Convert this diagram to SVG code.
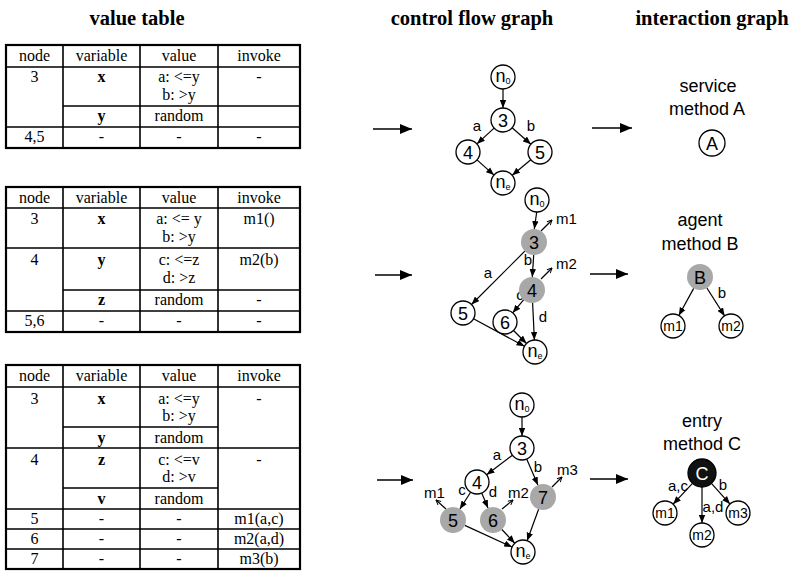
<svg xmlns="http://www.w3.org/2000/svg" width="793" height="574" viewBox="0 0 793 574">
<defs>
<marker id="ah" viewBox="0 0 10 8" refX="10" refY="4" markerWidth="8" markerHeight="7" markerUnits="userSpaceOnUse" orient="auto"><path d="M0,0 L10,4 L0,8 z" fill="#000"/></marker>
<marker id="big" viewBox="0 0 12 10" refX="12" refY="5" markerWidth="13" markerHeight="10" markerUnits="userSpaceOnUse" orient="auto"><path d="M0,0 L12,5 L0,10 z" fill="#000"/></marker>
<marker id="oh" viewBox="0 0 10 10" refX="9" refY="5" markerWidth="6" markerHeight="6" markerUnits="userSpaceOnUse" orient="auto"><path d="M1,1 L9,5 L1,9" fill="none" stroke="#000" stroke-width="1.6"/></marker>
</defs>
<style>
.title{font-family:"Liberation Serif","Times New Roman",serif;font-weight:bold;font-size:20.5px;text-anchor:middle}
.tt{font-family:"Liberation Serif","Times New Roman",serif;font-size:16px;text-anchor:middle}
.tb{font-weight:bold}
.grid{stroke:#000;stroke-width:1.6;fill:none}
.outer{stroke:#000;stroke-width:2.2;fill:none}
.nd{fill:#fff;stroke:#000;stroke-width:1.3}
.sh{fill:#a8a8a8}
.blk{fill:#111;stroke:#000;stroke-width:1.3}
.nt{font-family:"Liberation Sans",Arial,sans-serif;font-size:18px;text-anchor:middle}
.mt{font-family:"Liberation Sans",Arial,sans-serif;font-size:14px;text-anchor:middle}
.lb{font-family:"Liberation Sans",Arial,sans-serif;font-size:15px;text-anchor:middle}
.hd{font-family:"Liberation Sans",Arial,sans-serif;font-size:18px;text-anchor:middle}
.edge{stroke:#000;stroke-width:1.2;fill:none;marker-end:url(#ah)}
.inv{stroke:#000;stroke-width:1.2;fill:none;marker-end:url(#oh)}
.step{stroke:#000;stroke-width:1.6;fill:none;marker-end:url(#big)}
</style>
<rect width="793" height="574" fill="#fff"/>

<g id="titles">
<text class="title" x="137" y="25">value table</text>
<text class="title" x="472" y="25">control flow graph</text>
<text class="title" x="712" y="25">interaction graph</text>
</g>

<g id="table1">
<rect class="outer" x="6" y="45" width="294" height="103"/>
<path class="grid" d="M6,67H300 M63,45V148 M140,45V148 M218,45V148 M63,106H300 M6,127H300"/>
<g class="tt">
<text x="34.5" y="61">node</text><text x="101.5" y="61">variable</text><text x="179" y="61">value</text><text x="259" y="61">invoke</text>
<text x="34.5" y="82">3</text><text class="tb" x="101.5" y="82">x</text><text x="179" y="82">a: &lt;=y</text><text x="259" y="82">-</text>
<text x="179" y="100">b: &gt;y</text>
<text class="tb" x="101.5" y="121">y</text><text x="179" y="121">random</text>
<text x="34.5" y="142">4,5</text><text x="101.5" y="142">-</text><text x="179" y="142">-</text><text x="259" y="142">-</text>
</g>
</g>

<g id="table2">
<rect class="outer" x="6" y="187" width="294" height="145"/>
<path class="grid" d="M6,208H300 M63,187V332 M140,187V332 M218,187V332 M6,248H300 M63,290H300 M6,311H300"/>
<g class="tt">
<text x="34.5" y="203">node</text><text x="101.5" y="203">variable</text><text x="179" y="203">value</text><text x="259" y="203">invoke</text>
<text x="34.5" y="224">3</text><text class="tb" x="101.5" y="224">x</text><text x="179" y="224">a: &lt;= y</text><text x="259" y="224">m1()</text>
<text x="179" y="242">b: &gt;y</text>
<text x="34.5" y="265">4</text><text class="tb" x="101.5" y="265">y</text><text x="179" y="265">c: &lt;=z</text><text x="259" y="265">m2(b)</text>
<text x="179" y="283">d: &gt;z</text>
<text class="tb" x="101.5" y="305">z</text><text x="179" y="305">random</text><text x="259" y="305">-</text>
<text x="34.5" y="326">5,6</text><text x="101.5" y="326">-</text><text x="179" y="326">-</text><text x="259" y="326">-</text>
</g>
</g>

<g id="table3">
<rect class="outer" x="6" y="365" width="294" height="204"/>
<path class="grid" d="M6,387H300 M63,365V569 M140,365V569 M218,365V569 M63,427H218 M6,448H300 M63,488H218 M6,509H300 M6,529H300 M6,549H300"/>
<g class="tt">
<text x="34.5" y="381">node</text><text x="101.5" y="381">variable</text><text x="179" y="381">value</text><text x="259" y="381">invoke</text>
<text x="34.5" y="404">3</text><text class="tb" x="101.5" y="404">x</text><text x="179" y="404">a: &lt;=y</text><text x="259" y="404">-</text>
<text x="179" y="421">b: &gt;y</text>
<text class="tb" x="101.5" y="443">y</text><text x="179" y="443">random</text>
<text x="34.5" y="465">4</text><text class="tb" x="101.5" y="465">z</text><text x="179" y="465">c: &lt;=v</text><text x="259" y="465">-</text>
<text x="179" y="482">d: &gt;v</text>
<text class="tb" x="101.5" y="504">v</text><text x="179" y="504">random</text>
<text x="34.5" y="524">5</text><text x="101.5" y="524">-</text><text x="179" y="524">-</text><text x="259" y="524">m1(a,c)</text>
<text x="34.5" y="544">6</text><text x="101.5" y="544">-</text><text x="179" y="544">-</text><text x="259" y="544">m2(a,d)</text>
<text x="34.5" y="564">7</text><text x="101.5" y="564">-</text><text x="179" y="564">-</text><text x="259" y="564">m3(b)</text>
</g>
</g>

<g id="connectors">
<path class="step" d="M373,129H412"/>
<path class="step" d="M592,128H632"/>
<path class="step" d="M375,275H412"/>
<path class="step" d="M590,274H628"/>
<path class="step" d="M377,480H413"/>
<path class="step" d="M590,479H628"/>
<path class="edge" d="M503,89V108"/>
<path class="edge" d="M494.1,128.1L476.9,143.9"/>
<path class="edge" d="M512.1,127.8L530.9,144.2"/>
<path class="edge" d="M477,159.9L494,175.1"/>
<path class="edge" d="M530.8,159.7L512.2,175.3"/>
<path class="edge" d="M536.7,212L534.3,229"/>
<path class="edge" d="M533.7,255L532.3,277"/>
<path class="edge" d="M524.8,251.2L471.5,304.5"/>
<path class="edge" d="M523.6,299.9L512.7,312.8"/>
<path class="edge" d="M532.6,303L534.4,340"/>
<path class="edge" d="M473.5,318.7L524.5,346.3"/>
<path class="edge" d="M513.5,330.5L526.5,343.5"/>
<path class="inv" d="M541,231L552,220"/>
<path class="inv" d="M541,279L552,268"/>
<path class="edge" d="M522,417V436"/>
<path class="edge" d="M512.4,455.2L486.6,474.8"/>
<path class="edge" d="M526.7,459L537.9,485.1"/>
<path class="edge" d="M470.6,492.2L459.9,509"/>
<path class="edge" d="M481.7,493.1L488,508"/>
<path class="edge" d="M464.8,525.4L512.1,547"/>
<path class="edge" d="M501.9,529.5L514.8,543.3"/>
<path class="edge" d="M538.6,509.2L527.1,540.7"/>
<path class="inv" d="M446,509L436,500"/>
<path class="inv" d="M502,509L513,500"/>
<path class="inv" d="M552,487L562,477"/>
<path class="edge" d="M693.7,288.4L678.8,315.5"/>
<path class="edge" d="M706.9,288L724.6,315.9"/>
<path class="edge" d="M692.5,483.3L673.1,504.2"/>
<path class="edge" d="M702,487V523"/>
<path class="edge" d="M711.4,483.4L730,504.1"/>
</g>

<g id="edge-labels" class="lb">
<text x="477" y="131">a</text><text x="531" y="131">b</text>
<text x="488" y="278">a</text><text x="528" y="265">b</text><text x="520" y="300">c</text><text x="543" y="322">d</text>
<text x="497" y="460">a</text><text x="538" y="472">b</text><text x="462" y="495">c</text><text x="493" y="497">d</text>
<text x="722" y="298">b</text>
<text x="678" y="491">a,c</text><text x="713" y="512">a,d</text><text x="723" y="490">b</text>
</g>
<g id="call-labels" class="lb" style="text-anchor:start">
<text x="556" y="224">m1</text><text x="556" y="269">m2</text>
<text x="424" y="498">m1</text><text x="508" y="498">m2</text><text x="557" y="475">m3</text>
</g>

<g id="cfg1-n0"><circle class="nd" cx="503" cy="77" r="12"/><text class="nt" x="503" y="82">n<tspan font-size="9" dy="2">0</tspan></text></g>
<g id="cfg1-3"><circle class="nd" cx="503" cy="120" r="12"/><text class="nt" x="503" y="126.5">3</text></g>
<g id="cfg1-4"><circle class="nd" cx="468" cy="152" r="12"/><text class="nt" x="468" y="158.5">4</text></g>
<g id="cfg1-5"><circle class="nd" cx="540" cy="152" r="12"/><text class="nt" x="540" y="158.5">5</text></g>
<g id="cfg1-ne"><circle class="nd" cx="503" cy="183" r="12"/><text class="nt" x="503" y="188">n<tspan font-size="9" dy="2">e</tspan></text></g>

<g id="cfg2-n0"><circle class="nd" cx="537" cy="200" r="12"/><text class="nt" x="537" y="205">n<tspan font-size="9" dy="2">0</tspan></text></g>
<g id="cfg2-3"><circle class="sh" cx="534" cy="242" r="13"/><text class="nt" x="534" y="248.5">3</text></g>
<g id="cfg2-4"><circle class="sh" cx="532" cy="290" r="13"/><text class="nt" x="532" y="296.5">4</text></g>
<g id="cfg2-5"><circle class="nd" cx="463" cy="313" r="12"/><text class="nt" x="463" y="319.5">5</text></g>
<g id="cfg2-6"><circle class="nd" cx="505" cy="322" r="12"/><text class="nt" x="505" y="328.5">6</text></g>
<g id="cfg2-ne"><circle class="nd" cx="535" cy="352" r="12"/><text class="nt" x="535" y="357">n<tspan font-size="9" dy="2">e</tspan></text></g>

<g id="cfg3-n0"><circle class="nd" cx="522" cy="405" r="12"/><text class="nt" x="522" y="410">n<tspan font-size="9" dy="2">0</tspan></text></g>
<g id="cfg3-3"><circle class="nd" cx="522" cy="448" r="12"/><text class="nt" x="522" y="454.5">3</text></g>
<g id="cfg3-4"><circle class="nd" cx="477" cy="482" r="12"/><text class="nt" x="477" y="488.5">4</text></g>
<g id="cfg3-7"><circle class="sh" cx="543" cy="497" r="13"/><text class="nt" x="543" y="503.5">7</text></g>
<g id="cfg3-5"><circle class="sh" cx="453" cy="520" r="13"/><text class="nt" x="453" y="526.5">5</text></g>
<g id="cfg3-6"><circle class="sh" cx="493" cy="520" r="13"/><text class="nt" x="493" y="526.5">6</text></g>
<g id="cfg3-ne"><circle class="nd" cx="523" cy="552" r="12"/><text class="nt" x="523" y="557">n<tspan font-size="9" dy="2">e</tspan></text></g>

<g id="ig1">
<text class="hd" x="708" y="92">service</text><text class="hd" x="707" y="115">method A</text>
<circle class="nd" cx="712" cy="143" r="13"/><text class="nt" x="712" y="149.5">A</text>
</g>
<g id="ig2">
<text class="hd" x="700" y="226">agent</text><text class="hd" x="700" y="250">method B</text>
<g id="ig2-B"><circle class="sh" cx="700" cy="277" r="13"/><text class="nt" x="700" y="283.5">B</text></g>
<g id="ig2-m1"><circle class="nd" cx="673" cy="326" r="12"/><text class="mt" x="673" y="331">m1</text></g>
<g id="ig2-m2"><circle class="nd" cx="731" cy="326" r="12"/><text class="mt" x="731" y="331">m2</text></g>
</g>
<g id="ig3">
<text class="hd" x="702" y="427">entry</text><text class="hd" x="702" y="450">method C</text>
<g id="ig3-C"><circle class="blk" cx="702" cy="473" r="14"/><text class="nt" x="702" y="479.5" fill="#fff">C</text></g>
<g id="ig3-m1"><circle class="nd" cx="665" cy="513" r="12"/><text class="mt" x="665" y="518">m1</text></g>
<g id="ig3-m2"><circle class="nd" cx="702" cy="535" r="12"/><text class="mt" x="702" y="540">m2</text></g>
<g id="ig3-m3"><circle class="nd" cx="738" cy="513" r="12"/><text class="mt" x="738" y="518">m3</text></g>
</g>
</svg>
